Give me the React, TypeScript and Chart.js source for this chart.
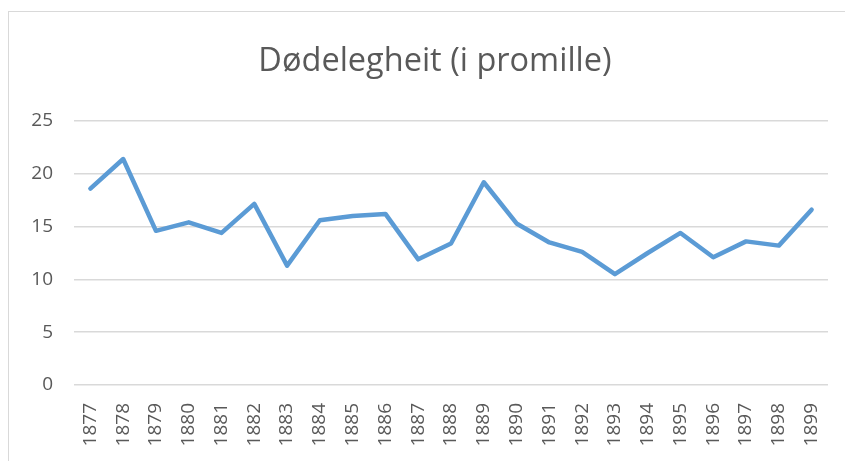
import React, { useEffect, useRef } from "react";
import { Chart, registerables } from "chart.js";

Chart.register(...registerables);

const years = [
  "1877", "1878", "1879", "1880", "1881", "1882", "1883", "1884", "1885", "1886", "1887", "1888",
  "1889", "1890", "1891", "1892", "1893", "1894", "1895", "1896", "1897", "1898", "1899",
];
const mortality = [
  18.6, 21.4, 14.6, 15.4, 14.4, 17.15, 11.3, 15.6, 16.0, 16.2, 11.9, 13.4,
  19.2, 15.3, 13.5, 12.6, 10.5, 12.5, 14.4, 12.1, 13.6, 13.2, 16.6,
];
const titleText = "Dødelegheit (i promille)";

export default function App() {
  const ref = useRef<HTMLCanvasElement | null>(null);
  useEffect(() => {
    if (!ref.current) return;
    const chart = new Chart(ref.current, {
      type: "line",
      data: {
        labels: years,
        datasets: [
          {
            data: mortality,
            borderColor: "#5B9BD5",
            backgroundColor: "#5B9BD5",
            borderWidth: 4.5,
            borderJoinStyle: "round",
            borderCapStyle: "round",
            pointRadius: 0,
            tension: 0,
          },
        ],
      },
      options: {
        animation: false,
        responsive: false,
        layout: { padding: 0 },
        plugins: {
          legend: { display: false },
          tooltip: { enabled: false },
          title: {
            display: true,
            text: titleText,
            color: "#595959",
            font: { family: "'Open Sans', sans-serif", size: 32.5, weight: "normal" },
            padding: { top: 30, bottom: 40 },
          },
        },
        scales: {
          x: {
            offset: true,
            grid: { display: false, drawTicks: false },
            border: { display: false },
            afterFit: (s: any) => {
              s.height = 82;
            },
            ticks: {
              minRotation: 90,
              maxRotation: 90,
              padding: 18,
              color: "#595959",
              font: { family: "'Open Sans', sans-serif", size: 19 },
              autoSkip: false,
            },
          },
          y: {
            min: 0,
            max: 25,
            grid: { color: "#d9d9d9", lineWidth: 1.5, drawTicks: false },
            border: { display: false },
            afterFit: (s: any) => {
              s.width = 65;
            },
            ticks: {
              stepSize: 5,
              padding: 21,
              color: "#595959",
              font: { family: "'Open Sans', sans-serif", size: 19 },
            },
          },
          yRight: {
            position: "right",
            min: 0,
            max: 25,
            grid: { display: false, drawTicks: false },
            border: { display: false },
            ticks: { display: false },
            afterFit: (s: any) => {
              s.width = 33;
            },
          },
        },
      },
    });
    return () => chart.destroy();
  }, []);
  return (
    <div
      style={{
        position: "relative",
        top: 3,
        width: 870,
        height: 470,
        border: "1px solid #d9d9d9",
        boxSizing: "border-box",
        background: "#fff",
      }}
    >
      <canvas ref={ref} width={852} height={455} style={{ display: "block" }} />
    </div>
  );
}
